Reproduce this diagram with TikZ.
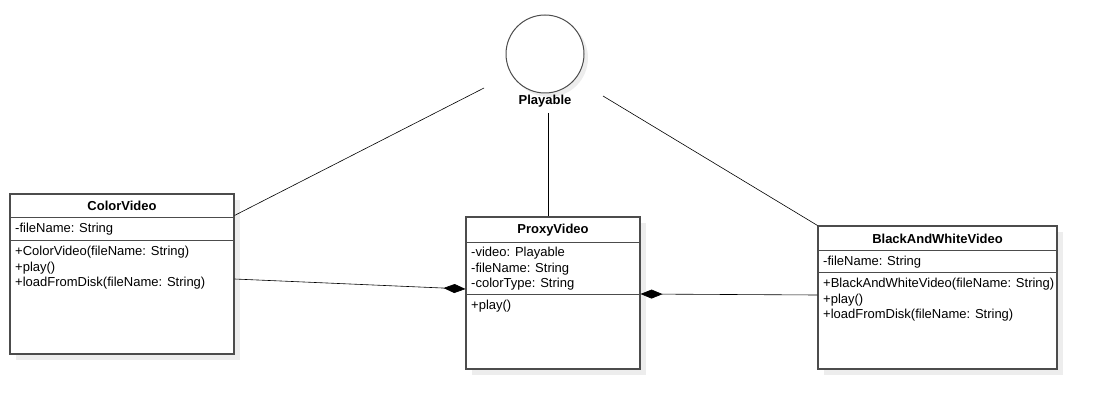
\documentclass[tikz,border=0pt]{standalone}
\usepackage{fontspec}
\setmainfont{Liberation Sans}
\usetikzlibrary{arrows.meta,calc,shadows}

\begin{document}
\begin{tikzpicture}[x=1pt,y=-1pt,
  cls/.style={rectangle,draw=black!70,line width=1.1pt,fill=white,inner sep=0pt,
    drop shadow={shadow xshift=6pt,shadow yshift=-6pt,fill=black!7,opacity=1}},
  sep/.style={draw=black!70,line width=1.1pt},
  title/.style={inner sep=1pt,font=\fontsize{13}{15}\selectfont\bfseries},
  members/.style={anchor=north west,inner sep=0pt,align=left,font=\fontsize{13}{15.5}\selectfont},
  link/.style={draw=black,line width=0.6pt},
  comp/.style={link,-{Diamond[length=22pt,width=9pt]}}]
  \useasboundingbox (0,0) rectangle (1097,409);

  % Interface
  \node[circle,draw=black!70,line width=1pt,fill=white,minimum size=78pt,
    drop shadow={shadow xshift=4pt,shadow yshift=-4pt,fill=black!7,opacity=1}] (playable) at (545,54) {};
  \node[title] (playlabel) at (545,101) {Playable};

  % ColorVideo
  \node[cls,minimum width=224pt,minimum height=160pt] (color) at (122,274) {};
  \node[title] (colortitle) at (122,206) {ColorVideo};
  \draw[sep] ([yshift=-24pt]color.north west) -- ([yshift=-24pt]color.north east);
  \draw[sep] ([yshift=-47pt]color.north west) -- ([yshift=-47pt]color.north east);
  \node[members] (colorattr) at (15,223) {-fileName: String};
  \node[members] (colorops) at (15,246) {+ColorVideo(fileName: String)\\+play()\\+loadFromDisk(fileName: String)};

  % ProxyVideo
  \node[cls,minimum width=174pt,minimum height=152pt] (proxy) at (553,293) {};
  \node[title] (proxytitle) at (553,230) {ProxyVideo};
  \draw[sep] ([yshift=-26pt]proxy.north west) -- ([yshift=-26pt]proxy.north east);
  \draw[sep] ([yshift=-78pt]proxy.north west) -- ([yshift=-78pt]proxy.north east);
  \node[members] (proxyattr) at (471,247) {-video: Playable\\-fileName: String\\-colorType: String};
  \node[members] (proxyops) at (471,300) {+play()};

  % BlackAndWhiteVideo
  \node[cls,minimum width=239pt,minimum height=143pt] (bw) at (937.5,297.5) {};
  \node[title] (bwtitle) at (937.5,239) {BlackAndWhiteVideo};
  \draw[sep] ([yshift=-25pt]bw.north west) -- ([yshift=-25pt]bw.north east);
  \draw[sep] ([yshift=-47pt]bw.north west) -- ([yshift=-47pt]bw.north east);
  \node[members] (bwattr) at (823,256) {-fileName: String};
  \node[members] (bwops) at (823,278) {+BlackAndWhiteVideo(fileName: String)\\+play()\\+loadFromDisk(fileName: String)};

  % Realizations
  \coordinate (playw) at (484,88);
  \coordinate (plays) at (548,113);
  \coordinate (playe) at (603,96);
  \draw[link] ([yshift=-22pt]color.north east) -- (playw);
  \draw[link] (plays) -- ([xshift=-5pt]proxy.north);
  \draw[link] (playe) -- (bw.north west);

  % Compositions
  \draw[comp] ([yshift=-5pt]color.east) -- ([yshift=4pt]proxy.west);
  \draw[comp] ([yshift=2.5pt]bw.west) -- ([yshift=-1pt]proxy.east);
\end{tikzpicture}
\end{document}
